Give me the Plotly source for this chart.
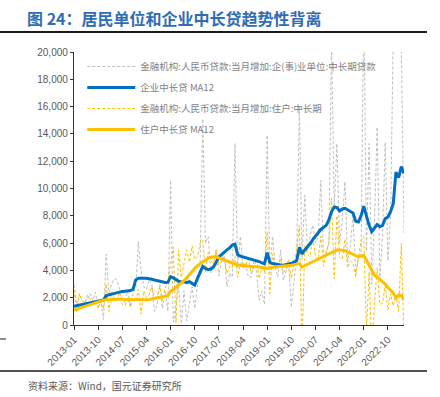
import plotly.graph_objects as go

# ---------------- data ----------------
months = [f"{y}-{m:02d}" for y in range(2013, 2024) for m in range(1, 13)][:124]

tick_labels = ["2013-01", "2013-10", "2014-07", "2015-04", "2016-01", "2016-10",
               "2017-07", "2018-04", "2019-01", "2019-10", "2020-07", "2021-04",
               "2022-01", "2022-10"]

# 金融机构:人民币贷款:当月增加:企(事)业单位:中长期贷款 (亿元)
corp_monthly = [
    2930, 1500, 2200, 1800, 1600, 2000, 2300, 1800, 2400, 1200, 1800, 400,
    5200, 2200, 3000, 3400, 3300, 2600, 2000, 1600, 2500, 1400, 2300, 2700,
    6100, 4000, 2800, 2600, 3300, 3000, 1000, 1500, 3000, 1200, 2500, 1000,
    10600, 200, 1500, 2800, 100, 2500, 300, 1500, 2800, 1200, 3000, 4500,
    15100, 6000, 6500, 3800, 4500, 5500, 3600, 4800, 5300, 2800, 3800, 3500,
    13300, 4200, 6500, 4200, 4500, 3500, 3500, 4600, 4000, 1800, 2500, 1500,
    13900, 3800, 6500, 4200, 3500, 5500, 3300, 4000, 4500, 1300, 3000, 5000,
    16000, 4800, 9500, 5400, 6500, 7300, 6000, 6400, 10600, 5000, 5200, 6000,
    21000, 8500, 13300, 6000, 7600, 10500, 4600, 5800, 8000, 3800, 5000, 4900,
    24000, 5400, 13300, 3000, 7500, 14500, 3500, 6500, 13400, 4700, 8000, 20500,
    34600, 21000, 20400, 6700,
]

# 企业中长贷 MA12
corp_ma12 = [
    1380, 1420, 1460, 1500, 1540, 1580, 1620, 1660, 1700, 1740, 1790, 1830,
    2150, 2200, 2260, 2330, 2400, 2440, 2460, 2480, 2500, 2520, 2600, 3300,
    3420, 3450, 3430, 3420, 3400, 3350, 3300, 3250, 3200, 3150, 3120, 3130,
    3540, 3450, 3300, 3200, 3150, 3180, 3100, 3180, 3050, 2930, 3400, 3900,
    4300, 4150, 4050, 4100, 4250, 4600, 5000, 5150, 5350, 5500, 5650, 5850,
    5920, 5150, 5050, 5000, 4950, 4900, 4850, 4800, 4700, 4650, 4550, 4500,
    5300, 4600, 4500, 4450, 4400, 4400, 4380, 4420, 4450, 4500, 4600, 4700,
    5700, 5200, 5500, 5700, 5950, 6250, 6500, 6800, 7000, 7150, 7300, 7700,
    8300, 8650, 8600, 8350, 8500, 8550, 8450, 8350, 8200, 7600, 7550, 8000,
    8700, 8000, 7300, 6850, 7100, 7350, 7200, 7300, 7800, 7900, 8300, 8900,
    11200, 10800, 11600, 11100,
]

# 金融机构:人民币贷款:当月增加:住户:中长期 (亿元)
hh_monthly = [
    2600, 900, 2300, 1800, 1600, 2200, 1900, 1500, 1800, 1300, 1700, 1200,
    3000, 1000, 2400, 1900, 1800, 2400, 1500, 1400, 2000, 1300, 1800, 1700,
    2600, 800, 2500, 2000, 2200, 2800, 2000, 2100, 2800, 1800, 2700, 3200,
    4500, 5700, 150, 5500, 3500, 4400, 5500, 4600, 5800, 4800, 5000, 6000,
    6200, 3900, 5300, 4700, 4500, 5500, 4400, 4600, 5000, 3800, 4300, 4200,
    5000, 3500, 4500, 4600, 4300, 5000, 3800, 4200, 4800, 3400, 4200, 3900,
    6800, 2300, 5200, 4300, 4100, 4900, 3800, 4100, 4800, 3400, 4400, 5500,
    7300, -2000, 5800, 5200, 5000, 6500, 5000, 4800, 6500, 4300, 5400, 6000,
    9300, 3400, 8000, 5000, 4800, 6300, 4200, 4700, 4500, 3500, 4900, 6200,
    6500, -450, 3900, -1900, 1600, 4200, 1500, 1600, 2900, 1100, 2300, 1400,
    2200, 1000, 6000, -1100,
]

# 住户中长贷 MA12
hh_ma12 = [
    1100, 1170, 1240, 1310, 1380, 1450, 1520, 1580, 1640, 1700, 1760, 1820,
    1850, 1870, 1880, 1900, 1900, 1900, 1890, 1880, 1880, 1870, 1860, 1850,
    1830, 1820, 1830, 1850, 1870, 1900, 1930, 1960, 2000, 2050, 2100, 2150,
    2500, 2600, 2750, 2900, 3050, 3250, 3450, 3700, 3900, 4150, 4350, 4500,
    4650, 4780, 4880, 4950, 5000, 4980, 4930, 4850, 4760, 4680, 4600, 4520,
    4450, 4400, 4370, 4340, 4310, 4290, 4280, 4270, 4260, 4230, 4200, 4170,
    4150, 4200, 4240, 4270, 4290, 4300, 4310, 4330, 4350, 4380, 4420, 4450,
    4500, 4250, 4350, 4450, 4550, 4650, 4750, 4850, 4950, 5050, 5150, 5250,
    5300, 5450, 5500, 5500, 5480, 5450, 5350, 5250, 5150, 5050, 5000, 5050,
    5100, 4750, 4400, 3950, 3650, 3500, 3350, 3200, 3000, 2750, 2550, 2350,
    1980, 2200, 2150, 1850,
]

names = [
    "金融机构:人民币贷款:当月增加:企(事)业单位:中长期贷款",
    "企业中长贷 MA12",
    "金融机构:人民币贷款:当月增加:住户:中长期",
    "住户中长贷 MA12",
]

# ---------------- figure ----------------
CJK = "Noto Sans CJK SC"
GRAY_TXT = "#595959"

fig = go.Figure()
fig.add_trace(go.Scatter(x=months, y=corp_monthly, mode="lines", name=names[0],
                         legendgroup="g1", legendrank=1,
                         line=dict(color="#BFBFBF", width=1, dash="3px,2px")))
fig.add_trace(go.Scatter(x=months, y=hh_monthly, mode="lines", name=names[2],
                         legendgroup="g3", legendrank=3,
                         line=dict(color="#FFC000", width=1, dash="3px,2px")))
fig.add_trace(go.Scatter(x=months, y=corp_ma12, mode="lines", name=names[1],
                         legendgroup="g2", legendrank=2,
                         line=dict(color="#0070C0", width=3)))
fig.add_trace(go.Scatter(x=months, y=hh_ma12, mode="lines", name=names[3],
                         legendgroup="g4", legendrank=4,
                         line=dict(color="#FFC000", width=3)))

fig.update_layout(
    width=440, height=397,
    margin=dict(l=74, r=36, t=52, b=72),
    paper_bgcolor="white", plot_bgcolor="white",
    font=dict(family=CJK, size=10, color=GRAY_TXT),
    title=dict(text="<b>图 24：居民单位和企业中长贷趋势性背离</b>",
               x=27 / 440, xanchor="left", xref="container",
               y=1 - 19 / 397, yanchor="middle", yref="container",
               font=dict(family=CJK, size=16, color="#2E6CB5")),
    showlegend=True,
    legend=dict(x=0.025, y=1.0, xanchor="left", yanchor="top",
                bgcolor="rgba(0,0,0,0)", tracegroupgap=2, itemwidth=48,
                font=dict(family=CJK, size=9.5, color="#7F7F7F")),
    xaxis=dict(type="category", range=[0, len(months) - 1],
               tickmode="array", tickvals=tick_labels, ticktext=tick_labels,
               tickangle=-45, ticks="outside", ticklen=4, tickcolor="#333",
               showline=True, linecolor="#333", linewidth=1,
               showgrid=False, zeroline=False,
               tickfont=dict(family="Liberation Sans", size=10, color=GRAY_TXT)),
    yaxis=dict(range=[0, 20000], dtick=2000, tickformat=",",
               ticks="outside", ticklen=3, tickcolor="#333",
               showline=True, linecolor="#333", linewidth=1.3,
               showgrid=False, zeroline=False,
               tickfont=dict(family="Liberation Sans", size=10, color=GRAY_TXT)),
)

# decorative header / footer rules and source note
pw, ph = 330.0, 273.0
def px_x(x):
    return (x - 74) / pw
def px_y(y):
    return (325 - y) / ph

fig.add_shape(type="line", xref="paper", yref="paper",
              x0=px_x(0), x1=px_x(427), y0=px_y(32), y1=px_y(32),
              line=dict(color="#1A1A1A", width=2))
fig.add_shape(type="line", xref="paper", yref="paper",
              x0=px_x(0), x1=px_x(427), y0=px_y(371), y1=px_y(371),
              line=dict(color="#1A1A1A", width=1.5))
fig.add_shape(type="line", xref="paper", yref="paper",
              x0=px_x(0), x1=px_x(6), y0=px_y(339), y1=px_y(339),
              line=dict(color="#1A1A1A", width=1))
fig.add_annotation(text="资料来源：Wind，国元证券研究所", xref="paper", yref="paper",
                   x=px_x(26), y=px_y(385), xanchor="left", yanchor="middle",
                   showarrow=False, font=dict(family=CJK, size=10, color=GRAY_TXT))

fig.write_html("out.html", config={"displayModeBar": False},
               post_script="document.body.style.margin='0';document.body.style.overflow='hidden';")
